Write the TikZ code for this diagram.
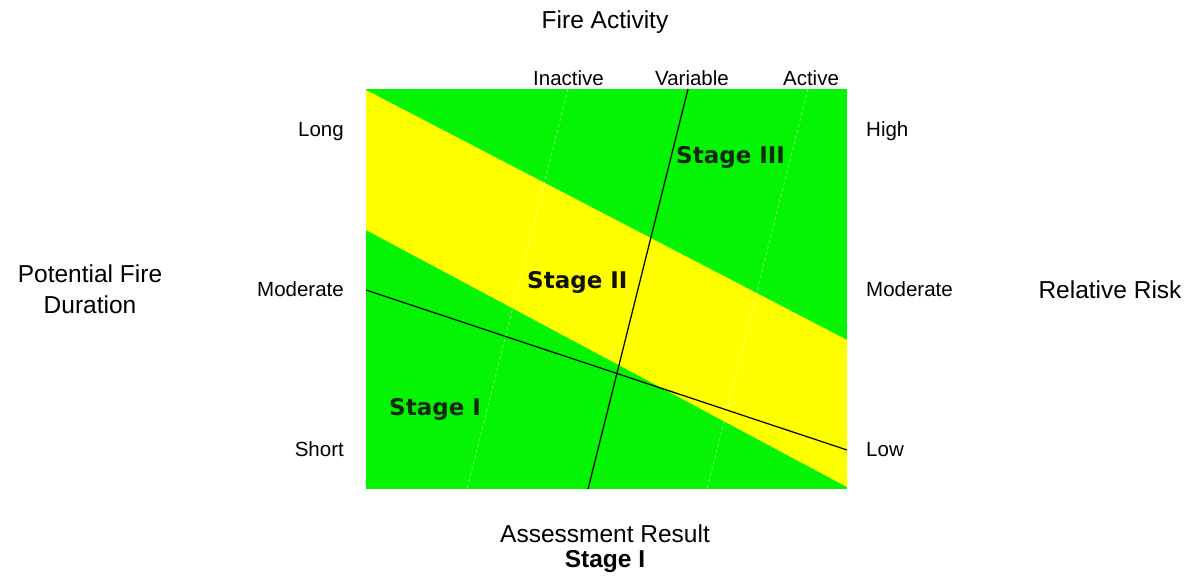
\documentclass[tikz,border=0pt]{standalone}
\usepackage{fontspec}
\setmainfont{Liberation Sans}
\newfontfamily\stagefont{DejaVu Sans}
\definecolor{chartgreen}{RGB}{4,244,4}
\definecolor{chartyellow}{RGB}{255,255,0}
\definecolor{stagedark}{RGB}{16,40,12}
\definecolor{stageblack}{RGB}{20,18,8}
\begin{document}
\begin{tikzpicture}[x=1pt,y=-1pt,
  biglabel/.style={inner sep=0pt,font=\fontsize{24.5}{29}\selectfont},
  smalllabel/.style={inner sep=0pt,font=\fontsize{20.5}{24}\selectfont},
  stagelabel/.style={inner sep=0pt,text=stagedark,font=\stagefont\bfseries\fontsize{23}{27}\selectfont},
  axisline/.style={black,line width=1.2pt},
  gridline/.style={white,opacity=0.45,line width=1pt,dash pattern=on 3pt off 3pt}]
\useasboundingbox (0,0) rectangle (1204,580);
% chart square
\coordinate (tl) at (366,89);
\coordinate (br) at (847,489);
\fill[chartgreen] (tl) rectangle (br);
% yellow band
\fill[chartyellow] (366,90) -- (847,340) -- (847,487) -- (366,230) -- cycle;
% faint grid lines
\coordinate (g1t) at (568,89); \coordinate (g1b) at (467,489);
\coordinate (g2t) at (808,89); \coordinate (g2b) at (707,489);
\draw[gridline] (g1t) -- (g1b);
\draw[gridline] (g2t) -- (g2b);
% black lines
\coordinate (hl) at (366,290); \coordinate (hr) at (847,450);
\coordinate (vt) at (688,89); \coordinate (vb) at (588,489);
\draw[axisline] (hl) -- (hr);
\draw[axisline] (vt) -- (vb);
% stage labels
\node[stagelabel,anchor=base west] (s3) at (676,164) {Stage III};
\node[stagelabel,anchor=base west,text=stageblack] (s2) at (527,288) {Stage II};
\node[stagelabel,anchor=base west] (s1) at (389,415) {Stage I};
% top labels
\node[biglabel,anchor=base] (fa) at (605,29) {Fire Activity};
\node[smalllabel,anchor=base] (ina) at (568.5,86) {Inactive};
\node[smalllabel,anchor=base] (var) at (692,86) {Variable};
\node[smalllabel,anchor=base] (act) at (811,86) {Active};
% left labels
\node[smalllabel,anchor=base east] (long) at (344,137) {Long};
\node[smalllabel,anchor=base east] (modl) at (344,296) {Moderate};
\node[smalllabel,anchor=base east] (short) at (344,456) {Short};
\node[biglabel,anchor=base] (pfd1) at (90,282) {Potential Fire};
\node[biglabel,anchor=base] (pfd2) at (90,313) {Duration};
% right labels
\node[smalllabel,anchor=base west] (high) at (866,137) {High};
\node[smalllabel,anchor=base west] (modr) at (866,296) {Moderate};
\node[smalllabel,anchor=base west] (low) at (866,456) {Low};
\node[biglabel,anchor=base] (rr) at (1110,298) {Relative Risk};
% bottom labels
\node[biglabel,anchor=base] (ar) at (605,542) {Assessment Result};
\node[biglabel,anchor=base,font=\fontsize{24.5}{29}\selectfont\bfseries] (res) at (605,567) {Stage I};
\end{tikzpicture}
\end{document}
